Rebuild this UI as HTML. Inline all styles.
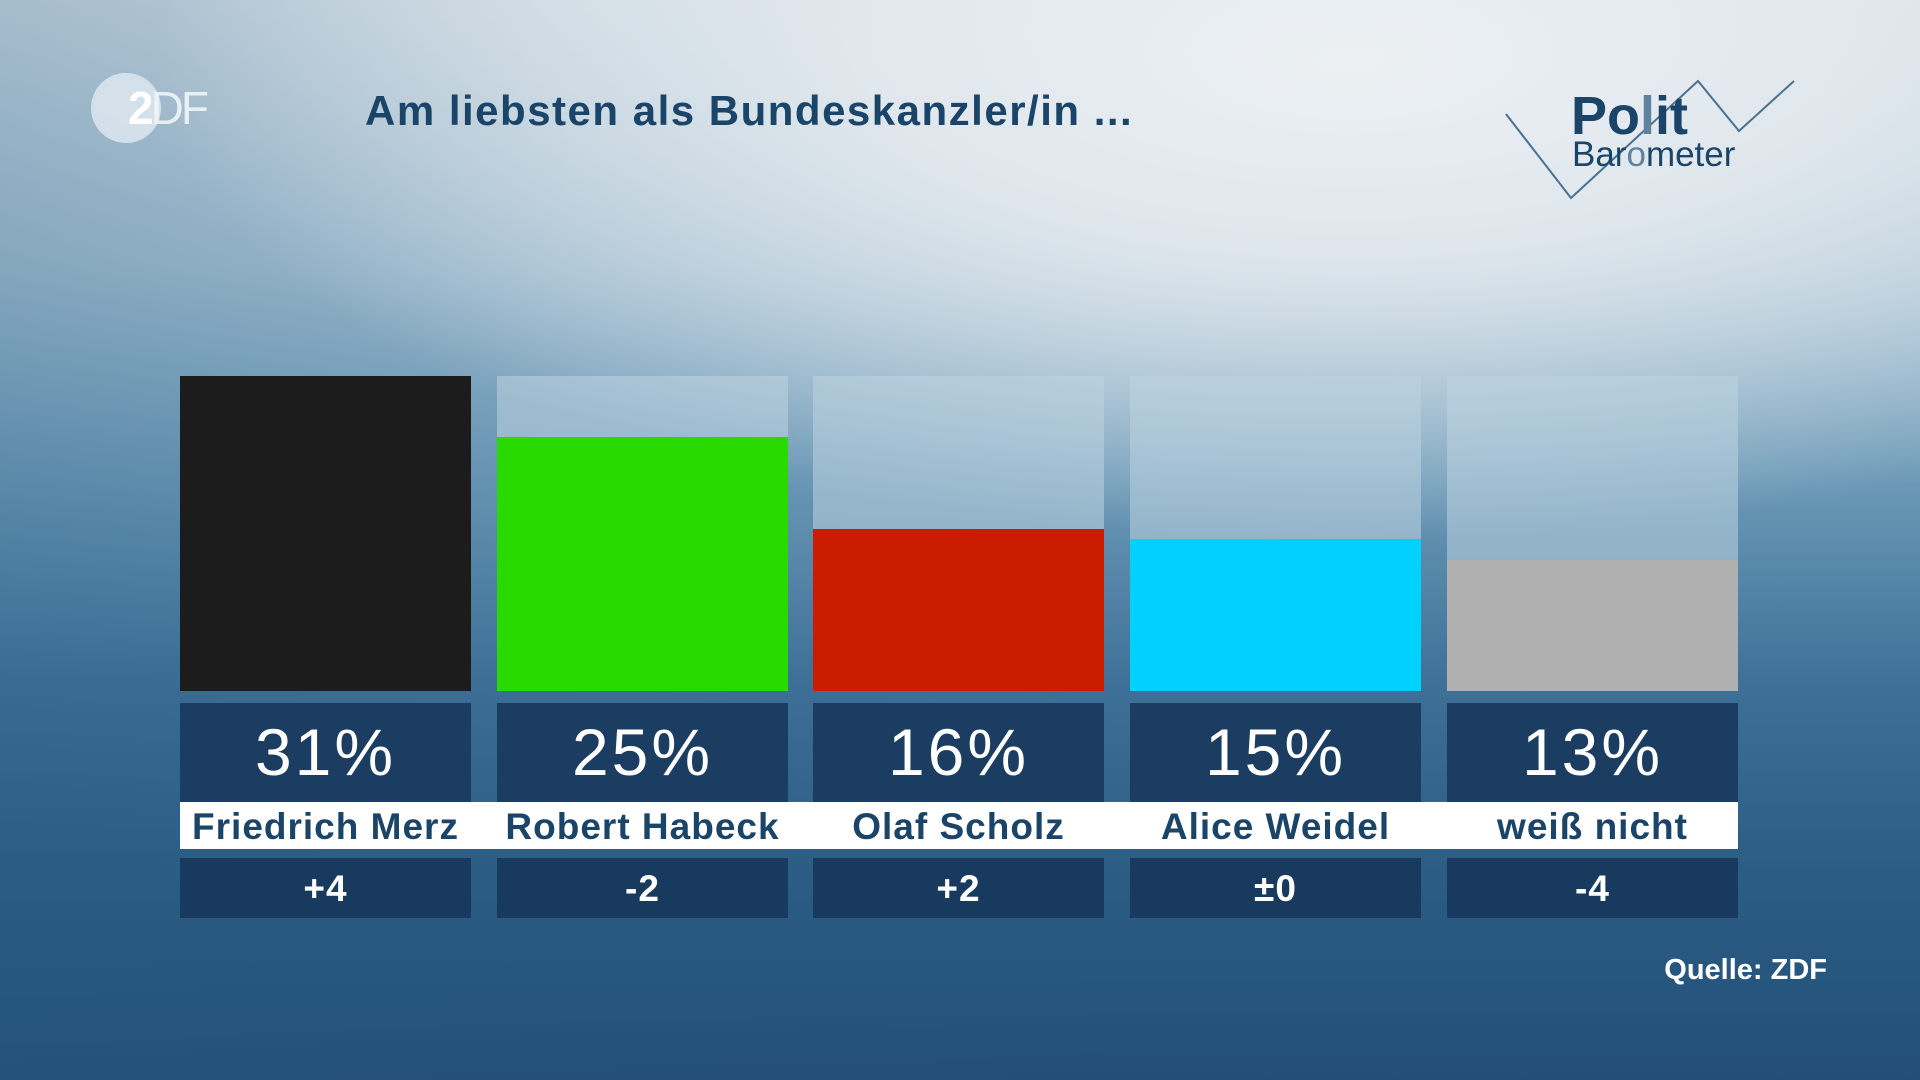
<!DOCTYPE html>
<html><head><meta charset="utf-8"><style>
*{margin:0;padding:0;box-sizing:border-box}
body{width:1920px;height:1080px;overflow:hidden;position:relative;font-family:"Liberation Sans",sans-serif;
background:
radial-gradient(ellipse 1200px 480px at 1350px 60px,rgba(236,240,243,1) 0%,rgba(228,234,239,0.9) 40%,rgba(200,215,225,0) 100%),
linear-gradient(90deg,rgba(40,90,130,0.25) 0%,rgba(40,90,130,0.08) 30%,rgba(40,90,130,0) 60%),
linear-gradient(180deg,#d0dde5 0%,#a3c0d2 25%,#6a98b6 45%,#3f7198 63%,#2b5d85 80%,#234f77 100%);}
.bg{position:absolute;left:180px;top:376px;width:291px;height:315px;background:rgba(190,212,224,0.55)}
.fill{position:absolute;left:0;right:0;bottom:0}
.pct{position:absolute;top:703px;width:291px;height:99px;background:#1c3d62;color:#fff;font-size:66px;text-align:center;line-height:99px;letter-spacing:3px}
.band{position:absolute;left:180px;top:802px;width:1558px;height:47px;background:#fff}
.name{position:absolute;top:802px;width:291px;height:47px;color:#1a4468;font-weight:bold;font-size:37px;text-align:center;line-height:50px;white-space:nowrap;letter-spacing:1px}
.dl{position:absolute;top:858px;width:291px;height:60px;background:#193a5f;color:#fff;font-weight:bold;font-size:37px;text-align:center;line-height:62px;letter-spacing:1px}
</style></head><body>
<div style="position:absolute;left:91px;top:73px;width:70px;height:70px;border-radius:50%;background:rgba(225,235,241,0.8)"></div>
<div style="position:absolute;left:128px;top:84px;font-size:46px;font-weight:bold;color:#fff;letter-spacing:-3px;line-height:48px">2<span style="color:rgba(240,245,248,0.9);font-weight:normal">DF</span></div>
<div style="position:absolute;left:365px;top:87px;font-size:42px;font-weight:bold;color:#1a4468;line-height:48px;letter-spacing:1.5px">Am liebsten als Bundeskanzler/in ...</div>
<svg style="position:absolute;left:0;top:0" width="1920" height="300"><polyline points="1506,114 1571,198 1698,81 1739,131 1794,81" fill="none" stroke="#4a7191" stroke-width="2"/></svg>
<div style="position:absolute;left:1571px;top:88px;font-size:54px;font-weight:bold;color:#1a4468;line-height:56px">Po<span style="color:#5f829f">l</span>it</div>
<div style="position:absolute;left:1572px;top:137px;font-size:35px;color:#1a4468;line-height:36px">Bar<span style="color:#5f829f">o</span>meter</div>

<div class="bg" style="left:180px"><div class="fill" style="top:0;background:#1c1c1c"></div></div>
<div class="bg" style="left:497px"><div class="fill" style="top:61px;background:#29da00"></div></div>
<div class="bg" style="left:813px"><div class="fill" style="top:153px;background:#cc1c00"></div></div>
<div class="bg" style="left:1130px"><div class="fill" style="top:163px;background:#00d1ff"></div></div>
<div class="bg" style="left:1447px"><div class="fill" style="top:184px;background:#b0b0b0"></div></div>

<div class="pct" style="left:180px">31%</div>
<div class="pct" style="left:497px">25%</div>
<div class="pct" style="left:813px">16%</div>
<div class="pct" style="left:1130px">15%</div>
<div class="pct" style="left:1447px">13%</div>
<div class="band"></div>
<div class="name" style="left:180px">Friedrich Merz</div>
<div class="name" style="left:497px">Robert Habeck</div>
<div class="name" style="left:813px">Olaf Scholz</div>
<div class="name" style="left:1130px">Alice Weidel</div>
<div class="name" style="left:1447px">weiß nicht</div>
<div class="dl" style="left:180px">+4</div>
<div class="dl" style="left:497px">-2</div>
<div class="dl" style="left:813px">+2</div>
<div class="dl" style="left:1130px">±0</div>
<div class="dl" style="left:1447px">-4</div>
<div style="position:absolute;right:93px;top:954px;font-size:29px;font-weight:bold;color:#fff">Quelle: ZDF</div>
</body></html>
